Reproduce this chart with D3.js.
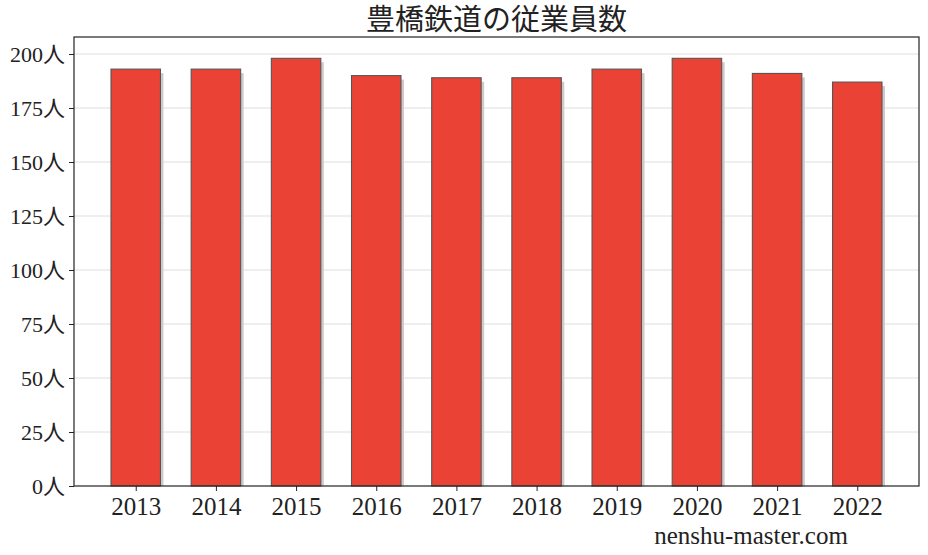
<!DOCTYPE html>
<html>
<head>
<meta charset="utf-8">
<script src="https://cdn.jsdelivr.net/npm/d3@7"></script>
<style>
  html,body{margin:0;padding:0;background:#fff}
  svg{display:block}
  text{font-family:"Liberation Serif","DejaVu Serif","Noto Sans CJK JP",serif;fill:#222}
  .grid line{stroke:#dedede;stroke-width:1}
  .axis path,.axis line{stroke:#222}
</style>
</head>
<body>
<svg id="chart" width="928" height="555"></svg>
<script>
/* ===== Data ===== */
const title = '豊橋鉄道の従業員数';
const years = ['2013','2014','2015','2016','2017','2018','2019','2020','2021','2022'];
const employees = [193,193,198,190,189,189,193,198,191,187];
const yTicks = [0,25,50,75,100,125,150,175,200];
const unit = '人';
const credit = 'nenshu-master.com';

/* ===== Layout ===== */
const svg = d3.select('#chart');
const W = 928, H = 555, m = {t:37, r:9, b:69, l:74};
const innerW = W-m.l-m.r, innerH = H-m.t-m.b;
const g = svg.append('g').attr('transform',`translate(${m.l},${m.t})`);

const x = d3.scalePoint().domain(years).range([0,innerW]).padding(0.77);
const step = x.step(), bw = step*0.617;
const y = d3.scaleLinear().domain([0,200]).range([innerH,17]);

// gridlines
g.append('g').attr('class','grid')
  .selectAll('line').data(yTicks.filter(d=>d>0)).enter().append('line')
  .attr('x1',0).attr('x2',innerW).attr('y1',d=>y(d)).attr('y2',d=>y(d));

// shadows then bars
const data = years.map((yr,i)=>({yr, v:employees[i]}));
g.selectAll('.shadow').data(data).enter().append('rect').attr('class','shadow')
  .attr('x',d=>x(d.yr)-bw/2+3).attr('y',d=>y(d.v)+4)
  .attr('width',bw).attr('height',d=>innerH-y(d.v)-4)
  .attr('fill','#cfc9ca');
g.selectAll('.bar').data(data).enter().append('rect').attr('class','bar')
  .attr('x',d=>x(d.yr)-bw/2).attr('y',d=>y(d.v))
  .attr('width',bw).attr('height',d=>innerH-y(d.v))
  .attr('fill','#ea4335').attr('stroke','#555').attr('stroke-width',1.1);

// axes
const yA = d3.axisLeft(y).tickValues(yTicks).tickSize(5).tickPadding(4).tickFormat(d=>d+unit);
const yg = g.append('g').attr('class','axis').call(yA);
yg.select('.domain').remove();
yg.selectAll('text').attr('font-size',22).attr('fill','#222');

const xA = d3.axisBottom(x).tickSize(5).tickPadding(4);
const xg = g.append('g').attr('class','axis').attr('transform',`translate(0,${innerH})`).call(xA);
xg.select('.domain').remove();
xg.selectAll('text').attr('font-size',25).attr('fill','#222').attr('dy','0.8em');

// frame
g.append('rect').attr('x',0).attr('y',0).attr('width',innerW).attr('height',innerH)
  .attr('fill','none').attr('stroke','#222').attr('stroke-width',1.2);

// title & credit
svg.append('text').attr('x',m.l+innerW/2).attr('y',30).attr('text-anchor','middle')
  .attr('font-size',29).text(title);
svg.append('text').attr('x',751).attr('y',544).attr('text-anchor','middle')
  .attr('font-size',25).text(credit);
</script>
</body>
</html>
